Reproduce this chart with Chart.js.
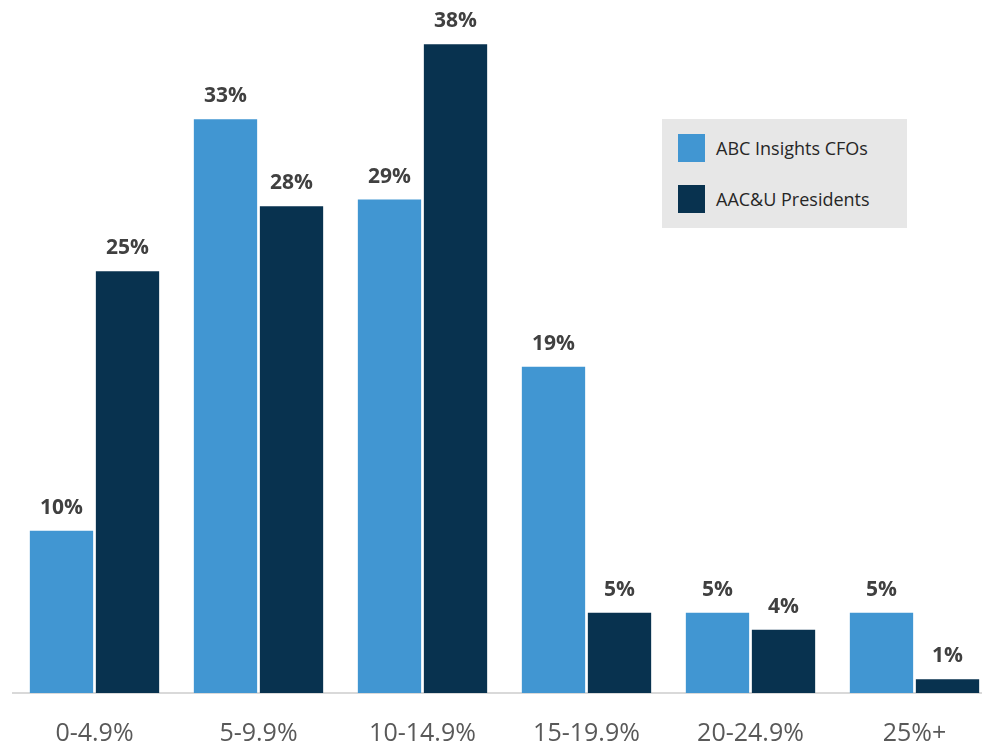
<!DOCTYPE html>
<html>
<head>
<meta charset="utf-8">
<script src="https://cdn.jsdelivr.net/npm/chart.js@4.4.1/dist/chart.umd.min.js"></script>
<style>
    html, body { margin: 0; padding: 0; background: #fff; overflow: hidden; }
    #wrap { position: relative; width: 1000px; height: 746px; }
    #legend {
        position: absolute; left: 662px; top: 119px; width: 245px; height: 109px;
        background: #e7e7e7; font-family: "Open Sans", sans-serif; font-size: 18px; color: #262626;
    }
    #legend .item { position: absolute; left: 16px; height: 28px; display: flex; align-items: center; }
    #legend .sw { width: 27px; height: 28px; margin-right: 11px; }
</style>
</head>
<body>
<div id="wrap">
    <canvas id="chart" width="1000" height="746"></canvas>
    <div id="legend"></div>
</div>
<script>
const categories = ["0-4.9%", "5-9.9%", "10-14.9%", "15-19.9%", "20-24.9%", "25%+"];
const seriesNames = ["ABC Insights CFOs", "AAC&U Presidents"];
const cfoValues = [9.5, 33.6, 28.9, 19.1, 4.7, 4.7];
const presValues = [24.7, 28.5, 38.0, 4.7, 3.7, 0.8];
const cfoLabels = ["10%", "33%", "29%", "19%", "5%", "5%"];
const presLabels = ["25%", "28%", "38%", "5%", "4%", "1%"];
const colors = ["#4196d2", "#08324f"];

const barLabels = {
    id: "barLabels",
    afterDatasetsDraw(chart) {
        const ctx = chart.ctx;
        const texts = [cfoLabels, presLabels];
        ctx.save();
        ctx.font = "bold 21px 'Open Sans', sans-serif";
        ctx.fillStyle = "#404040";
        ctx.textAlign = "center";
        ctx.textBaseline = "alphabetic";
        chart.data.datasets.forEach((ds, i) => {
            chart.getDatasetMeta(i).data.forEach((bar, j) => {
                ctx.fillText(texts[i][j], bar.x, bar.y - 17);
            });
        });
        ctx.restore();
    }
};

const chart = new Chart(document.getElementById("chart"), {
    type: "bar",
    data: {
        labels: categories,
        datasets: [
            { label: seriesNames[0], data: cfoValues, backgroundColor: colors[0] },
            { label: seriesNames[1], data: presValues, backgroundColor: colors[1] }
        ]
    },
    options: {
        animation: false,
        responsive: false,
        layout: { padding: { left: 12.5, right: 3.5, top: 10, bottom: 0 } },
        datasets: { bar: { categoryPercentage: 0.805, barPercentage: 0.959 } },
        plugins: { legend: { display: false }, tooltip: { enabled: false } },
        scales: {
            x: {
                grid: { display: false, drawTicks: false },
                border: { display: true, color: "#d9d9d9", width: 2 },
                ticks: { color: "#595959", font: { family: "'Open Sans', sans-serif", size: 25 }, padding: 26 },
                afterFit: (scale) => { scale.height = 53; }
            },
            y: { display: false, min: 0, max: 40 }
        }
    },
    plugins: [barLabels]
});

const legend = document.getElementById("legend");
chart.data.datasets.forEach((ds, i) => {
    const item = document.createElement("div");
    item.className = "item";
    item.style.top = (15 + i * 51) + "px";
    item.innerHTML = `<span class="sw" style="background:${ds.backgroundColor}"></span><span></span>`;
    item.lastChild.textContent = ds.label;
    legend.appendChild(item);
});
</script>
</body>
</html>
